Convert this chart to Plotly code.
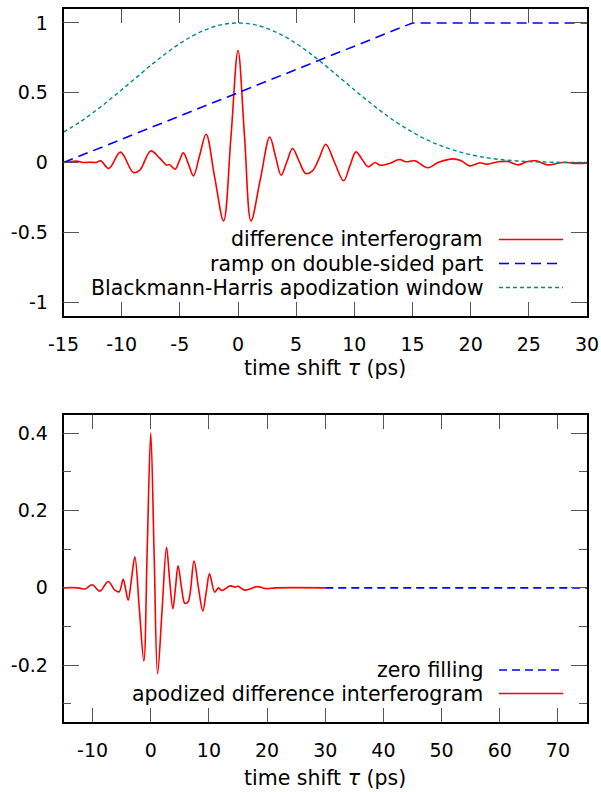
import plotly.graph_objects as go

# ---------------- data ----------------
# top panel: difference interferogram
diff_t = [-15, -14.5, -13.9, -13.3, -12.75, -12.2, -11.8, -11.1, -10.1, -9.0, -8.44, -7.5,
          -6.71, -6.13, -5.9, -5.41, -5.05, -4.7, -4.25, -3.83, -3.3, -2.74, -2.0, -1.24,
          -0.6, 0.0, 0.56, 1.12, 1.92, 2.73, 3.22, 3.71, 4.2, 4.69, 5.25, 5.82, 6.4, 7.0,
          7.55, 8.3, 9.08, 9.6, 10.14, 10.67, 11.2, 11.78, 12.24, 13.0, 13.88, 14.45, 15.2,
          16.3, 17.2, 18.5, 19.2, 19.9, 20.8, 21.35, 22.36, 23.2, 24.1, 24.8, 25.6, 26.6,
          27.5, 28.1, 28.9, 30.0]
diff_y = [0.0, 0.005, 0.01, 0.0, 0.002, 0.0, 0.012, -0.043, 0.074, -0.072, -0.055, 0.083,
          0.029, -0.019, -0.015, -0.048, 0.01, 0.069, -0.013, -0.096, 0.05, 0.202, -0.108, -0.418,
          0.19, 0.803, 0.19, -0.418, -0.12, 0.183, 0.045, -0.091, 0.005, 0.10, 0.01, -0.079, -0.06, 0.035,
          0.131, 0.0, -0.131, -0.028, 0.076, 0.022, -0.031, 0.0, -0.02, -0.007, 0.021, 0.005, 0.012,
          -0.038, 0.0, 0.026, 0.012, -0.024, -0.002, -0.012, 0.005, 0.007, -0.017, 0.005, 0.012, -0.017,
          -0.005, 0.002, -0.007, -0.005]

# ramp on double-sided part
ramp_t = [-15, 15, 30]
ramp_y = [0.0, 1.0, 1.0]

# Blackmann-Harris apodization window
win_t = [-15, -13.5, -12, -10.5, -9, -7.5, -6, -4.5, -3, -1.5, 0, 1.5, 3, 4.5, 6, 7.5, 9,
         10.5, 12, 13.5, 15, 16.5, 18, 19.5, 21, 22.5, 24, 25.5, 27, 28.5, 30]
win_y = [0.217, 0.295, 0.386, 0.486, 0.591, 0.696, 0.794, 0.879, 0.944, 0.986, 1.0, 0.986,
         0.944, 0.879, 0.794, 0.696, 0.591, 0.486, 0.386, 0.295, 0.217, 0.153, 0.103, 0.066,
         0.039, 0.022, 0.011, 0.005, 0.002, 0.0, 0.0]

# bottom panel: apodized difference interferogram
apo_t = [-15, -12.5, -11.3, -10.07, -8.75, -7.32, -6.17, -5.43, -4.74, -4.3, -3.88, -3.3,
         -2.73, -1.96, -1.19, -0.6, 0.0, 0.58, 1.17, 1.94, 2.71, 3.25, 3.8, 4.25, 4.7, 5.3,
         5.86, 6.43, 7.44, 8.2, 8.95, 9.55, 10.1, 11.0, 11.65, 12.2, 13.65, 14.45, 15.0,
         16.17, 18.3, 19.9, 21.5, 30.0]
apo_y = [0.0, 0.0, -0.003, 0.008, -0.0085, 0.0165, -0.006, -0.010, 0.022, -0.005, -0.032, 0.024,
         0.080, -0.055, -0.189, 0.105, 0.400, 0.089, -0.222, -0.06, 0.105, 0.02, -0.054, 0.0, 0.057, 0.0,
         -0.040, -0.036, 0.069, 0.0, -0.060, -0.01, 0.036, -0.011, 0.0, -0.007, 0.005, 0.002, 0.004,
         -0.006, 0.003, -0.002, 0.0, 0.0]

# zero filling
zero_t = [30, 75]
zero_y = [0.0, 0.0]

# tick labels
top_xticks = [-15, -10, -5, 0, 5, 10, 15, 20, 25, 30]
top_xlabels = ["-15", "-10", "-5", "0", "5", "10", "15", "20", "25", "30"]
top_yticks = [-1, -0.5, 0, 0.5, 1]
top_ylabels = ["-1", "-0.5", "0", "0.5", "1"]
bot_xticks = [-10, 0, 10, 20, 30, 40, 50, 60, 70]
bot_xlabels = ["-10", "0", "10", "20", "30", "40", "50", "60", "70"]
bot_yticks = [-0.2, 0, 0.2, 0.4]
bot_ylabels = ["-0.2", "0", "0.2", "0.4"]

top_legend = ["difference interferogram", "ramp on double-sided part",
              "Blackmann-Harris apodization window"]
bot_legend = ["zero filling", "apodized difference interferogram"]
x_title = "time shift <i>τ</i> (ps)"

# ---------------- styling ----------------
W, H = 601, 792
FONT = "DejaVu Sans"
RED, BLUE, TEAL = "#ff0000", "#0000ff", "#008b8b"
RED_W, BLUE_W, TEAL_W = 1.6, 1.6, 1.4
BLUE_DASH_TOP = "10px,6px"
BLUE_DASH_BOT = "8px,5px"
TEAL_DASH = "4px,3px"

px_l, px_r = 63.5, 587.0
top_py = (9.0, 316.0)
bot_py = (415.0, 722.0)


def ydom(p):
    return [1 - p[1] / H, 1 - p[0] / H]


fig = go.Figure()
fig.add_trace(go.Scatter(x=diff_t, y=diff_y, mode="lines", line=dict(color=RED, width=RED_W, shape="spline"),
                         xaxis="x", yaxis="y", showlegend=False))
fig.add_trace(go.Scatter(x=ramp_t, y=ramp_y, mode="lines", line=dict(color=BLUE, width=BLUE_W, dash=BLUE_DASH_TOP),
                         xaxis="x", yaxis="y", showlegend=False))
fig.add_trace(go.Scatter(x=win_t, y=win_y, mode="lines", line=dict(color=TEAL, width=TEAL_W, dash=TEAL_DASH, shape="spline"),
                         xaxis="x", yaxis="y", showlegend=False))
fig.add_trace(go.Scatter(x=zero_t, y=zero_y, mode="lines", line=dict(color=BLUE, width=BLUE_W, dash=BLUE_DASH_BOT),
                         xaxis="x2", yaxis="y2", showlegend=False))
fig.add_trace(go.Scatter(x=apo_t, y=apo_y, mode="lines", line=dict(color=RED, width=RED_W, shape="spline"),
                         xaxis="x2", yaxis="y2", showlegend=False))

axis_common = dict(ticks="inside", tickwidth=1.2, tickcolor="#555555", mirror="allticks",
                   showline=True, linecolor="black", linewidth=1.5, showgrid=False, zeroline=False,
                   automargin=False,
                   tickfont=dict(family=FONT, size=19, color="black"))

fig.update_layout(
    width=W, height=H, margin=dict(l=0, r=0, t=0, b=0, pad=0, autoexpand=False),
    paper_bgcolor="white", plot_bgcolor="white",
    font=dict(family=FONT, size=19, color="black"),
    xaxis=dict(domain=[px_l / W, px_r / W], anchor="y", range=[-15, 30], tickmode="array",
               tickvals=top_xticks, ticktext=top_xlabels, ticklen=14, ticklabelstandoff=10, **axis_common),
    yaxis=dict(domain=ydom(top_py), anchor="x", range=[-1.1, 1.1], tickmode="array",
               tickvals=top_yticks, ticktext=top_ylabels, ticklen=16, ticklabelstandoff=10, **axis_common),
    xaxis2=dict(domain=[px_l / W, px_r / W], anchor="y2", range=[-15, 75], tickmode="array",
                tickvals=bot_xticks, ticktext=bot_xlabels, ticklen=14, ticklabelstandoff=10, **axis_common),
    yaxis2=dict(domain=ydom(bot_py), anchor="x2", range=[-0.347, 0.447], tickmode="array",
                tickvals=bot_yticks, ticktext=bot_ylabels, ticklen=16, ticklabelstandoff=10,
                minor=dict(tickmode="linear", tick0=0, dtick=0.1, ticklen=8, ticks="inside",
                           tickwidth=1.2, tickcolor="#555555"),
                **axis_common),
)

ann = []
shapes = []
LEG_FONT = dict(family=FONT, size=20.5, color="black")
text_right = 485 / W
samp_x0, samp_x1 = 499 / W, 563 / W

# axis titles
for yc in (368, 778):
    ann.append(dict(x=(px_l + px_r) / 2 / W, y=1 - yc / H, xref="paper", yref="paper", text=x_title,
                    showarrow=False, xanchor="center", yanchor="middle", font=LEG_FONT))

# legends
top_rows = [239.5, 263.5, 287.5]
top_styles = [(RED, RED_W, "solid"), (BLUE, BLUE_W, BLUE_DASH_TOP), (TEAL, TEAL_W, TEAL_DASH)]
for label, yc, (c, w, d) in zip(top_legend, top_rows, top_styles):
    ann.append(dict(x=text_right, y=1 - yc / H, xref="paper", yref="paper", text=label, showarrow=False,
                    xanchor="right", yanchor="middle", font=LEG_FONT))
    shapes.append(dict(type="line", xref="paper", yref="paper", x0=samp_x0, x1=samp_x1,
                       y0=1 - yc / H, y1=1 - yc / H, line=dict(color=c, width=w, dash=d)))

bot_rows = [670.0, 693.5]
bot_styles = [(BLUE, BLUE_W, BLUE_DASH_BOT), (RED, RED_W, "solid")]
for label, yc, (c, w, d) in zip(bot_legend, bot_rows, bot_styles):
    ann.append(dict(x=text_right, y=1 - yc / H, xref="paper", yref="paper", text=label, showarrow=False,
                    xanchor="right", yanchor="middle", font=LEG_FONT))
    shapes.append(dict(type="line", xref="paper", yref="paper", x0=samp_x0, x1=samp_x1,
                       y0=1 - yc / H, y1=1 - yc / H, line=dict(color=c, width=w, dash=d)))

fig.update_layout(annotations=ann, shapes=shapes)
fig.write_html("out.html")
